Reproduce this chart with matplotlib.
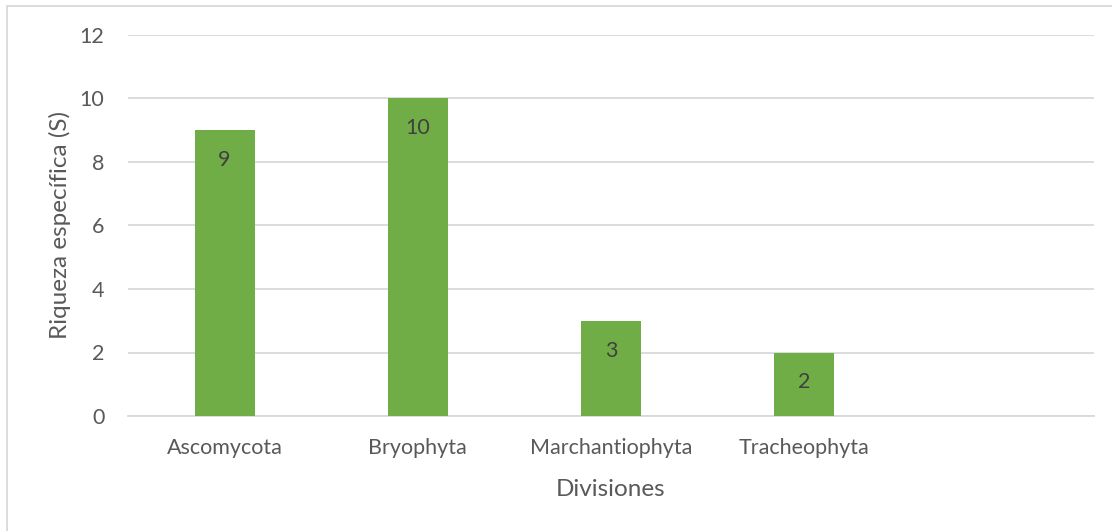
import matplotlib.pyplot as plt
from matplotlib.patches import Rectangle

# datos
divisiones = ["Ascomycota", "Bryophyta", "Marchantiophyta", "Tracheophyta", ""]
riqueza = [9, 10, 3, 2]

plt.rcParams['font.family'] = ['Lato', 'DejaVu Sans']

fig = plt.figure(figsize=(11.12, 5.31), dpi=100)
ax = fig.add_axes([128 / 1112, 1 - 416 / 531, (1094 - 128) / 1112, (416 - 35) / 531])

x = list(range(len(divisiones)))
bars = ax.bar(x[:len(riqueza)], riqueza, width=0.31, color="#70AD47", zorder=3)

# etiquetas de datos dentro de la barra
for i, v in enumerate(riqueza):
    ax.annotate(str(v), xy=(i, v), xytext=(0, -21.5), textcoords="offset points",
                ha="center", va="center", fontsize=15.5, color="#404040", zorder=4)

ax.set_xlim(-0.5, len(divisiones) - 0.5)
ax.set_ylim(0, 12)
ax.set_yticks(range(0, 13, 2))
ax.set_xticks(x[:len(riqueza)])
ax.set_xticklabels(divisiones[:len(riqueza)])
ax.yaxis.grid(True, color="#D9D9D9", linewidth=1.3, zorder=0)
ax.tick_params(length=0, labelsize=15.5, labelcolor="#595959")
ax.tick_params(axis="y", pad=17)
ax.tick_params(axis="x", pad=16)
for s in ["top", "right", "left"]:
    ax.spines[s].set_visible(False)
ax.spines["bottom"].set_color("#D9D9D9")
ax.spines["bottom"].set_linewidth(1.3)

ax.set_xlabel("Divisiones", fontsize=17.5, color="#595959", labelpad=15)
ax.set_ylabel("Riqueza específica (S)", fontsize=17.5, color="#595959", labelpad=6)

# marco del gráfico
fig.patches.append(Rectangle((7 / 1112, -0.05), 1.2, 1 - 6 / 531 + 0.05, transform=fig.transFigure,
                             fill=False, edgecolor="#D9D9D9", linewidth=1.3))

plt.savefig("out.png", dpi=100)
